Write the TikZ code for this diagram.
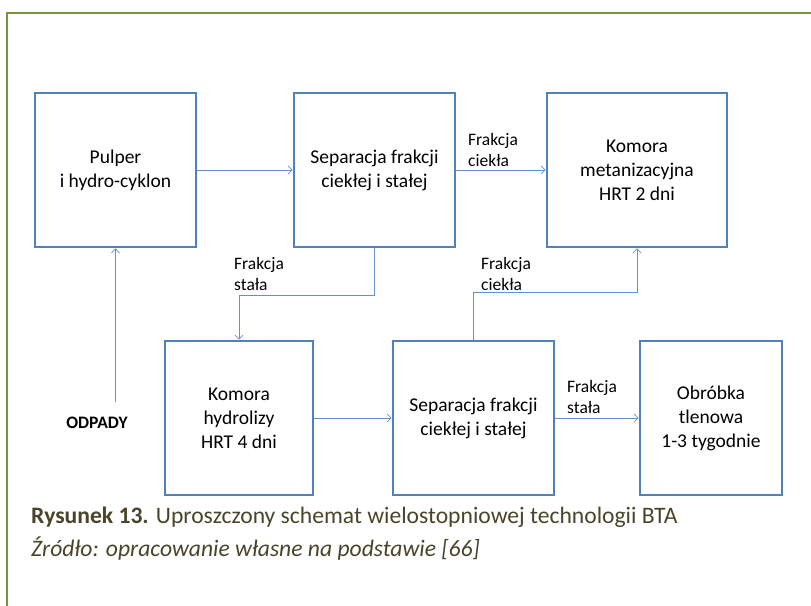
\documentclass[tikz,border=0pt]{standalone}
\usepackage{fontspec}
\setmainfont{Carlito}
\usetikzlibrary{arrows.meta}
\definecolor{boxblue}{RGB}{79,129,189}
\definecolor{linkblue}{RGB}{100,145,205}
\definecolor{framegreen}{RGB}{119,147,60}
\definecolor{captext}{RGB}{74,69,42}
\tikzset{
  procbox/.style={draw=boxblue, line width=2.6pt, align=center, inner sep=0pt,
    minimum height=154pt, font=\fontsize{19.5}{24}\selectfont, text=black},
  conn/.style={draw=linkblue, line width=0.9pt, -{Straight Barb[length=4pt,width=8pt,line width=0.8pt]}},
  flowlabel/.style={anchor=west, align=left, inner sep=0pt, font=\fontsize{17.5}{21}\selectfont, text=black},
  captionline/.style={anchor=base west, inner sep=0pt, font=\fontsize{23.6}{28}\selectfont, text=captext}
}
\begin{document}
\begin{tikzpicture}[x=1pt,y=-1pt]
\useasboundingbox[fill=white] (0,0) rectangle (811,605);
% frame
\draw[framegreen, line width=2pt] (7,606) -- (7,13) -- (812,13);
% boxes
\node[procbox, minimum width=161pt] (pulper) at (115.5,170) {Pulper\\i hydro-cyklon};
\node[procbox, minimum width=161pt] (sep1) at (374.5,170) {Separacja frakcji\\ciekłej i stałej};
\node[procbox, minimum width=180pt] (meta) at (637,170) {Komora\\metanizacyjna\\HRT 2 dni};
\node[procbox, minimum width=148pt] (hydro) at (239,418) {Komora\\hydrolizy\\HRT 4 dni};
\node[procbox, minimum width=161pt] (sep2) at (473.5,418) {Separacja frakcji\\ciekłej i stałej};
\node[procbox, minimum width=142pt] (tlen) at (711,418) {Obróbka\\tlenowa\\1-3 tygodnie};
% input
\node[inner sep=0pt, font=\bfseries\fontsize{17.5}{20}\selectfont] (odpady) at (97,423) {ODPADY};
\coordinate (odpin) at (115.5,402);
% connectors
\draw[conn] (odpin) -- (pulper.south);
\draw[conn] (pulper.east) -- (sep1.west);
\draw[conn] (sep1.east) -- (meta.west);
\draw[conn] (sep1.south) -- ++(0,47) -| (hydro.north);
\draw[conn] (sep2.north) -- ++(0,-47) -| (meta.south);
\draw[conn] (hydro.east) -- (sep2.west);
\draw[conn] (sep2.east) -- (tlen.west);
% labels
\node[flowlabel] (l1) at (468,150) {Frakcja\\ciekła};
\node[flowlabel] (l2) at (234,273.5) {Frakcja\\stała};
\node[flowlabel] (l3) at (481,273.5) {Frakcja\\ciekła};
\node[flowlabel] (l4) at (567,396.5) {Frakcja\\stała};
% caption
\node[captionline] (cap1) at (31,523) {\textbf{Rysunek 13.} Uproszczony schemat wielostopniowej technologii BTA};
\node[captionline] (cap2) at (31,556) {\itshape Źródło: opracowanie własne na podstawie [66]};
\end{tikzpicture}
\end{document}
